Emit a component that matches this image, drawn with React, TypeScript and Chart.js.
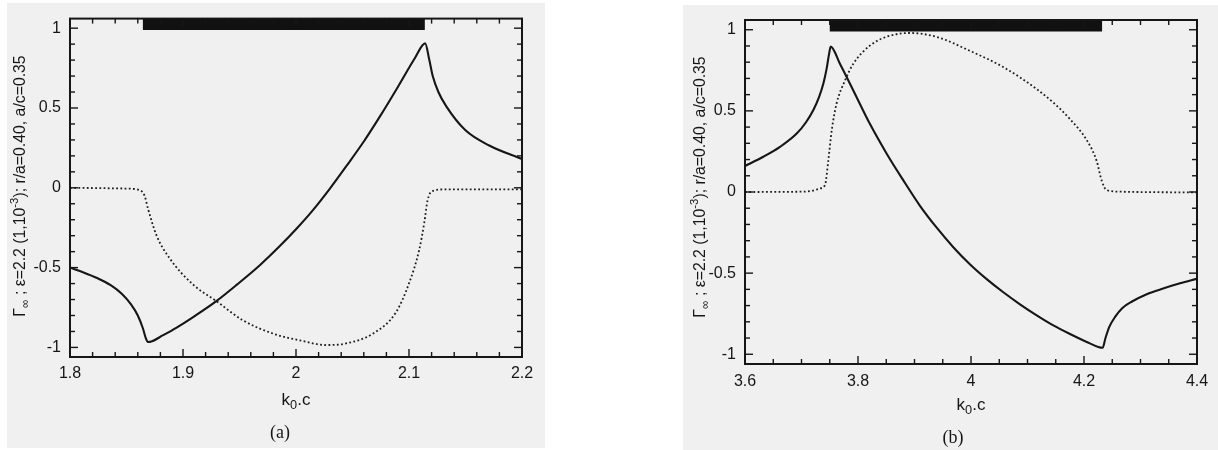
import React, { useEffect, useRef } from "react";
import { Chart, registerables } from "chart.js";
Chart.register(...registerables);

// ---------- data ----------
// Panel (a)
const solidAx = [1.8, 1.812, 1.824, 1.836, 1.846, 1.854, 1.86, 1.8645, 1.867, 1.869, 1.872, 1.882, 1.894, 1.91, 1.9295, 1.948, 1.968, 1.985, 2.0, 2.015, 2.03, 2.045, 2.06, 2.075, 2.09, 2.105, 2.1143, 2.118, 2.121, 2.126, 2.133, 2.15, 2.171, 2.2];
const solidAy = [-0.5, -0.53, -0.565, -0.61, -0.665, -0.73, -0.8, -0.88, -0.94, -0.966, -0.963, -0.925, -0.877, -0.805, -0.71, -0.605, -0.485, -0.37, -0.26, -0.14, -0.005, 0.14, 0.29, 0.455, 0.63, 0.81, 0.905, 0.8, 0.7, 0.6, 0.51, 0.36, 0.265, 0.18];
const dottedAx = [1.8, 1.85, 1.862, 1.866, 1.869, 1.8765, 1.888, 1.909, 1.9295, 1.953, 1.9825, 2.003, 2.0267, 2.0443, 2.068, 2.0885, 2.1002, 2.109, 2.1135, 2.1164, 2.1208, 2.1326, 2.2];
const dottedAy = [0, -0.005, -0.015, -0.05, -0.13, -0.297, -0.44, -0.607, -0.71, -0.83, -0.92, -0.955, -0.985, -0.975, -0.914, -0.78, -0.595, -0.39, -0.22, -0.08, -0.02, -0.01, -0.01];
const bandA = [1.8645, 2.114];

// Panel (b)
const solidBx = [3.6, 3.6324, 3.662, 3.6915, 3.708, 3.721, 3.731, 3.7386, 3.7445, 3.7485, 3.7517, 3.768, 3.7917, 3.821, 3.8508, 3.88, 3.9097, 3.9393, 3.9687, 3.998, 4.0278, 4.0572, 4.0867, 4.1163, 4.1457, 4.1752, 4.2048, 4.2253, 4.233, 4.238, 4.245, 4.255, 4.268, 4.285, 4.311, 4.34, 4.37, 4.4];
const solidBy = [0.16, 0.217, 0.278, 0.36, 0.43, 0.505, 0.585, 0.667, 0.76, 0.845, 0.896, 0.79, 0.626, 0.42, 0.236, 0.073, -0.085, -0.22, -0.34, -0.445, -0.537, -0.618, -0.692, -0.76, -0.822, -0.875, -0.924, -0.955, -0.96, -0.9, -0.83, -0.77, -0.715, -0.675, -0.63, -0.595, -0.563, -0.535];
const dottedBx = [3.6, 3.7, 3.72, 3.7327, 3.7416, 3.7475, 3.7535, 3.762, 3.777, 3.7917, 3.821, 3.8508, 3.892, 3.94, 3.998, 4.057, 4.116, 4.146, 4.175, 4.2048, 4.2225, 4.2313, 4.2402, 4.2637, 4.4];
const dottedBy = [0, 0.002, 0.008, 0.022, 0.043, 0.196, 0.38, 0.544, 0.687, 0.79, 0.902, 0.957, 0.98, 0.955, 0.87, 0.77, 0.635, 0.55, 0.45, 0.32, 0.19, 0.07, 0.012, 0.002, -0.003];
const bandB = [3.75, 4.232];

const xTicksA = [1.8, 1.9, 2, 2.1, 2.2];
const xTicksB = [3.6, 3.8, 4, 4.2, 4.4];
const yTicks = [-1, -0.5, 0, 0.5, 1];

const Y_LABEL = [
  { t: "Γ", s: 1 },
  { t: "∞", s: 0.75, dy: 0.28 },
  { t: " ; ε=2.2 (1,10", s: 1 },
  { t: "-3", s: 0.72, dy: -0.38 },
  { t: "); r/a=0.40, a/c=0.35", s: 1 },
];
const X_LABEL = [
  { t: "k", s: 1 },
  { t: "0", s: 0.75, dy: 0.3 },
  { t: ".c", s: 1 },
];

const INK = "#161616";
const SANS = "'Liberation Sans', Arial, Helvetica, sans-serif";
const SERIF = "'Liberation Serif', 'Times New Roman', serif";

function richText(ctx: CanvasRenderingContext2D, segs: any[], size: number, cx: number, cy: number, family: string) {
  let w = 0;
  for (const s of segs) {
    ctx.font = `${size * s.s}px ${family}`;
    w += ctx.measureText(s.t).width;
  }
  let x = cx - w / 2;
  ctx.textBaseline = "middle";
  ctx.textAlign = "left";
  for (const s of segs) {
    ctx.font = `${size * s.s}px ${family}`;
    ctx.fillText(s.t, x, cy + (s.dy || 0) * size);
    x += ctx.measureText(s.t).width;
  }
}

const framePlugin = {
  id: "frame",
  afterDatasetsDraw(chart: any, _args: any, o: any) {
    const { ctx, chartArea: a, scales } = chart;
    const x = scales.x, y = scales.y;
    ctx.save();
    ctx.strokeStyle = INK;
    ctx.lineWidth = 2;
    ctx.strokeRect(a.left, a.top, a.right - a.left, a.bottom - a.top);
    ctx.lineWidth = 1.4;
    const line = (x1: number, y1: number, x2: number, y2: number) => {
      ctx.beginPath(); ctx.moveTo(x1, y1); ctx.lineTo(x2, y2); ctx.stroke();
    };
    const x0 = o.xTicks[0], x1 = o.xTicks[o.xTicks.length - 1];
    const nx = Math.round((x1 - x0) / o.xMinor);
    for (let i = 0; i <= nx; i++) {
      const v = x0 + i * o.xMinor;
      const r = (v - x0) / o.xMajor;
      const major = Math.abs(r - Math.round(r)) < 1e-6;
      const L = major ? 8 : 5;
      const px = x.getPixelForValue(v);
      line(px, a.bottom, px, a.bottom - L);
      line(px, a.top, px, a.top + L);
    }
    for (let i = 0; i <= 20; i++) {
      const v = -1 + i * 0.1;
      const major = i % 5 === 0;
      const L = major ? 8 : 5;
      const py = y.getPixelForValue(v);
      line(a.left, py, a.left + L, py);
      line(a.right, py, a.right - L, py);
    }
    ctx.fillStyle = INK;
    richText(ctx, X_LABEL, 17, o.xl[0], o.xl[1], SANS);
    richText(ctx, [{ t: o.panel, s: 1 }], 18, o.pl[0], o.pl[1], SERIF);
    ctx.save();
    ctx.translate(o.yl[0], o.yl[1]);
    ctx.rotate(-Math.PI / 2);
    richText(ctx, Y_LABEL, 15.8, 0, 0, SANS);
    ctx.restore();
    ctx.restore();
  },
};

function fmt(v: number) {
  return String(Math.round(v * 100) / 100);
}

type PanelProps = {
  left: number; width: number;
  sx: number[]; sy: number[]; dx: number[]; dy: number[]; band: number[];
  xTicks: number[]; xMinor: number; xMajor: number;
  plotLeft: number; plotRight: number; plotTop: number; plotBottom: number;
  xl: number[]; pl: number[]; yl: number[]; panel: string; xPad: number;
};

function Panel(p: PanelProps) {
  const ref = useRef<HTMLCanvasElement>(null);
  useEffect(() => {
    const H = 450;
    const pts = (xs: number[], ys: number[]) => xs.map((x, i) => ({ x, y: ys[i] }));
    const chart = new Chart(ref.current!, {
      type: "line",
      data: {
        datasets: [
          {
            data: [{ x: p.band[0], y: 1.023 }, { x: p.band[1], y: 1.023 }],
            borderColor: "#111", borderWidth: 11, borderCapStyle: "butt", pointRadius: 0,
          } as any,
          {
            data: pts(p.dx, p.dy), borderColor: "#1e1e1e", borderWidth: 1.8,
            borderDash: [1.8, 2.4], pointRadius: 0, cubicInterpolationMode: "monotone",
          } as any,
          {
            data: pts(p.sx, p.sy), borderColor: INK, borderWidth: 2.1,
            pointRadius: 0, cubicInterpolationMode: "monotone",
          } as any,
        ],
      },
      options: {
        responsive: false,
        animation: false,
        devicePixelRatio: 1,
        parsing: false as any,
        events: [],
        layout: { padding: { left: 0, top: p.plotTop, right: p.width - p.plotRight, bottom: 0 } },
        plugins: {
          legend: { display: false },
          tooltip: { enabled: false },
          frame: { xTicks: p.xTicks, xMinor: p.xMinor, xMajor: p.xMajor, xl: p.xl, pl: p.pl, yl: p.yl, panel: p.panel },
        } as any,
        scales: {
          x: {
            type: "linear",
            min: p.xTicks[0], max: p.xTicks[p.xTicks.length - 1],
            grid: { display: false, drawTicks: false },
            border: { display: false },
            afterBuildTicks: (s: any) => { s.ticks = p.xTicks.map((v) => ({ value: v })); },
            afterFit: (s: any) => { s.height = H - p.plotBottom; },
            ticks: {
              autoSkip: false, maxRotation: 0, padding: p.xPad, color: INK,
              font: { size: 16, family: SANS },
              callback: (v: any) => fmt(Number(v)),
            },
          },
          y: {
            type: "linear",
            min: -1.06, max: 1.06,
            grid: { display: false, drawTicks: false },
            border: { display: false },
            afterBuildTicks: (s: any) => { s.ticks = yTicks.map((v) => ({ value: v })); },
            afterFit: (s: any) => { s.width = p.plotLeft; },
            ticks: {
              autoSkip: false, padding: 9, color: INK,
              font: { size: 16, family: SANS },
              callback: (v: any) => fmt(Number(v)),
            },
          },
        },
      } as any,
      plugins: [framePlugin as any],
    });
    return () => chart.destroy();
  }, []);
  return (
    <canvas
      ref={ref}
      width={p.width}
      height={450}
      style={{ position: "absolute", left: p.left, top: 0, width: p.width, height: 450 }}
    />
  );
}

export default function App() {
  return (
    <div style={{ position: "fixed", left: 0, top: 0, width: 1218, height: 450, background: "#ffffff", overflow: "hidden" }}>
      <div style={{ position: "absolute", left: 7, top: 3, width: 538, height: 445, background: "#f0f0f0" }} />
      <div style={{ position: "absolute", left: 683, top: 5, width: 535, height: 445, background: "#f0f0f0" }} />
      <Panel
        left={0} width={600}
        sx={solidAx} sy={solidAy} dx={dottedAx} dy={dottedAy} band={bandA}
        xTicks={xTicksA} xMinor={0.02} xMajor={0.1}
        plotLeft={70} plotRight={522} plotTop={13} plotBottom={357}
        xl={[296, 400]} pl={[280, 433]} yl={[21, 186]} panel="(a)" xPad={7}
      />
      <Panel
        left={660} width={558}
        sx={solidBx} sy={solidBy} dx={dottedBx} dy={dottedBy} band={bandB}
        xTicks={xTicksB} xMinor={0.05} xMajor={0.2}
        plotLeft={85} plotRight={537} plotTop={20} plotBottom={364}
        xl={[311, 405]} pl={[293, 438]} yl={[41, 187]} panel="(b)" xPad={8}
      />
    </div>
  );
}
